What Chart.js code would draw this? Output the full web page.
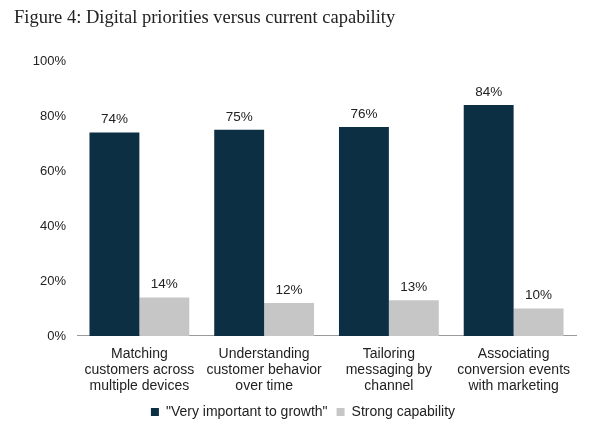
<!DOCTYPE html>
<html>
<head>
<meta charset="utf-8">
<script src="https://cdn.jsdelivr.net/npm/chart.js@4"></script>
<style>
  body { margin: 0; background: #fff; }
  #wrap { position: relative; width: 610px; height: 433px; }
  #title { position: absolute; left: 14px; top: 7px; font: 18.5px "Liberation Serif", serif; color: #222; }
</style>
</head>
<body>
<div id="wrap">
  <div id="title">Figure 4: Digital priorities versus current capability</div>
  <canvas id="myChart" width="610" height="433"></canvas>
</div>
<script>
const categories = [
  ['Matching', 'customers across', 'multiple devices'],
  ['Understanding', 'customer behavior', 'over time'],
  ['Tailoring', 'messaging by', 'channel'],
  ['Associating', 'conversion events', 'with marketing']
];
const importantValues = [74, 75, 76, 84];
const capabilityValues = [14, 12, 13, 10];
const seriesNames = ['"Very important to growth"', 'Strong capability'];

const textColor = '#222';

// value labels above each bar
const barLabels = {
  id: 'barLabels',
  afterDatasetsDraw(chart) {
    const ctx = chart.ctx;
    ctx.save();
    ctx.font = '13.5px "Liberation Sans", Arial, sans-serif';
    ctx.fillStyle = textColor;
    ctx.textAlign = 'center';
    ctx.textBaseline = 'bottom';
    chart.data.datasets.forEach((ds, i) => {
      chart.getDatasetMeta(i).data.forEach((bar, j) => {
        ctx.fillText(ds.data[j] + '%', bar.x, bar.y - 6);
      });
    });
    ctx.restore();
  }
};

const ctx = document.getElementById('myChart').getContext('2d');
new Chart(ctx, {
  type: 'bar',
  data: {
    labels: categories,
    datasets: [{
      label: seriesNames[0],
      data: importantValues,
      backgroundColor: '#0d2f44'
    }, {
      label: seriesNames[1],
      data: capabilityValues,
      backgroundColor: '#c6c6c6'
    }]
  },
  options: {
    responsive: false,
    animation: false,
    layout: {
      padding: { left: 30, right: 34, top: 61, bottom: 4 }
    },
    datasets: {
      bar: { categoryPercentage: 0.8, barPercentage: 1.0 }
    },
    scales: {
      x: {
        grid: { display: false },
        border: { display: true, color: '#9a9a9a' },
        ticks: {
          color: textColor,
          padding: 2,
          font: { family: '"Liberation Sans", Arial, sans-serif', size: 14, lineHeight: 1.143 }
        }
      },
      y: {
        min: 0,
        max: 100,
        grid: { display: false, drawTicks: false },
        border: { display: false },
        ticks: {
          stepSize: 20,
          padding: 11,
          color: textColor,
          font: { family: '"Liberation Sans", Arial, sans-serif', size: 13 },
          callback: v => v + '%'
        },
        afterFit(scale) { scale.width = 47; }
      }
    },
    plugins: {
      tooltip: { enabled: false },
      legend: {
        position: 'bottom',
        labels: {
          boxWidth: 8,
          boxHeight: 8,
          padding: 9,
          color: textColor,
          font: { family: '"Liberation Sans", Arial, sans-serif', size: 14 }
        }
      }
    }
  },
  plugins: [barLabels]
});
</script>
</body>
</html>
